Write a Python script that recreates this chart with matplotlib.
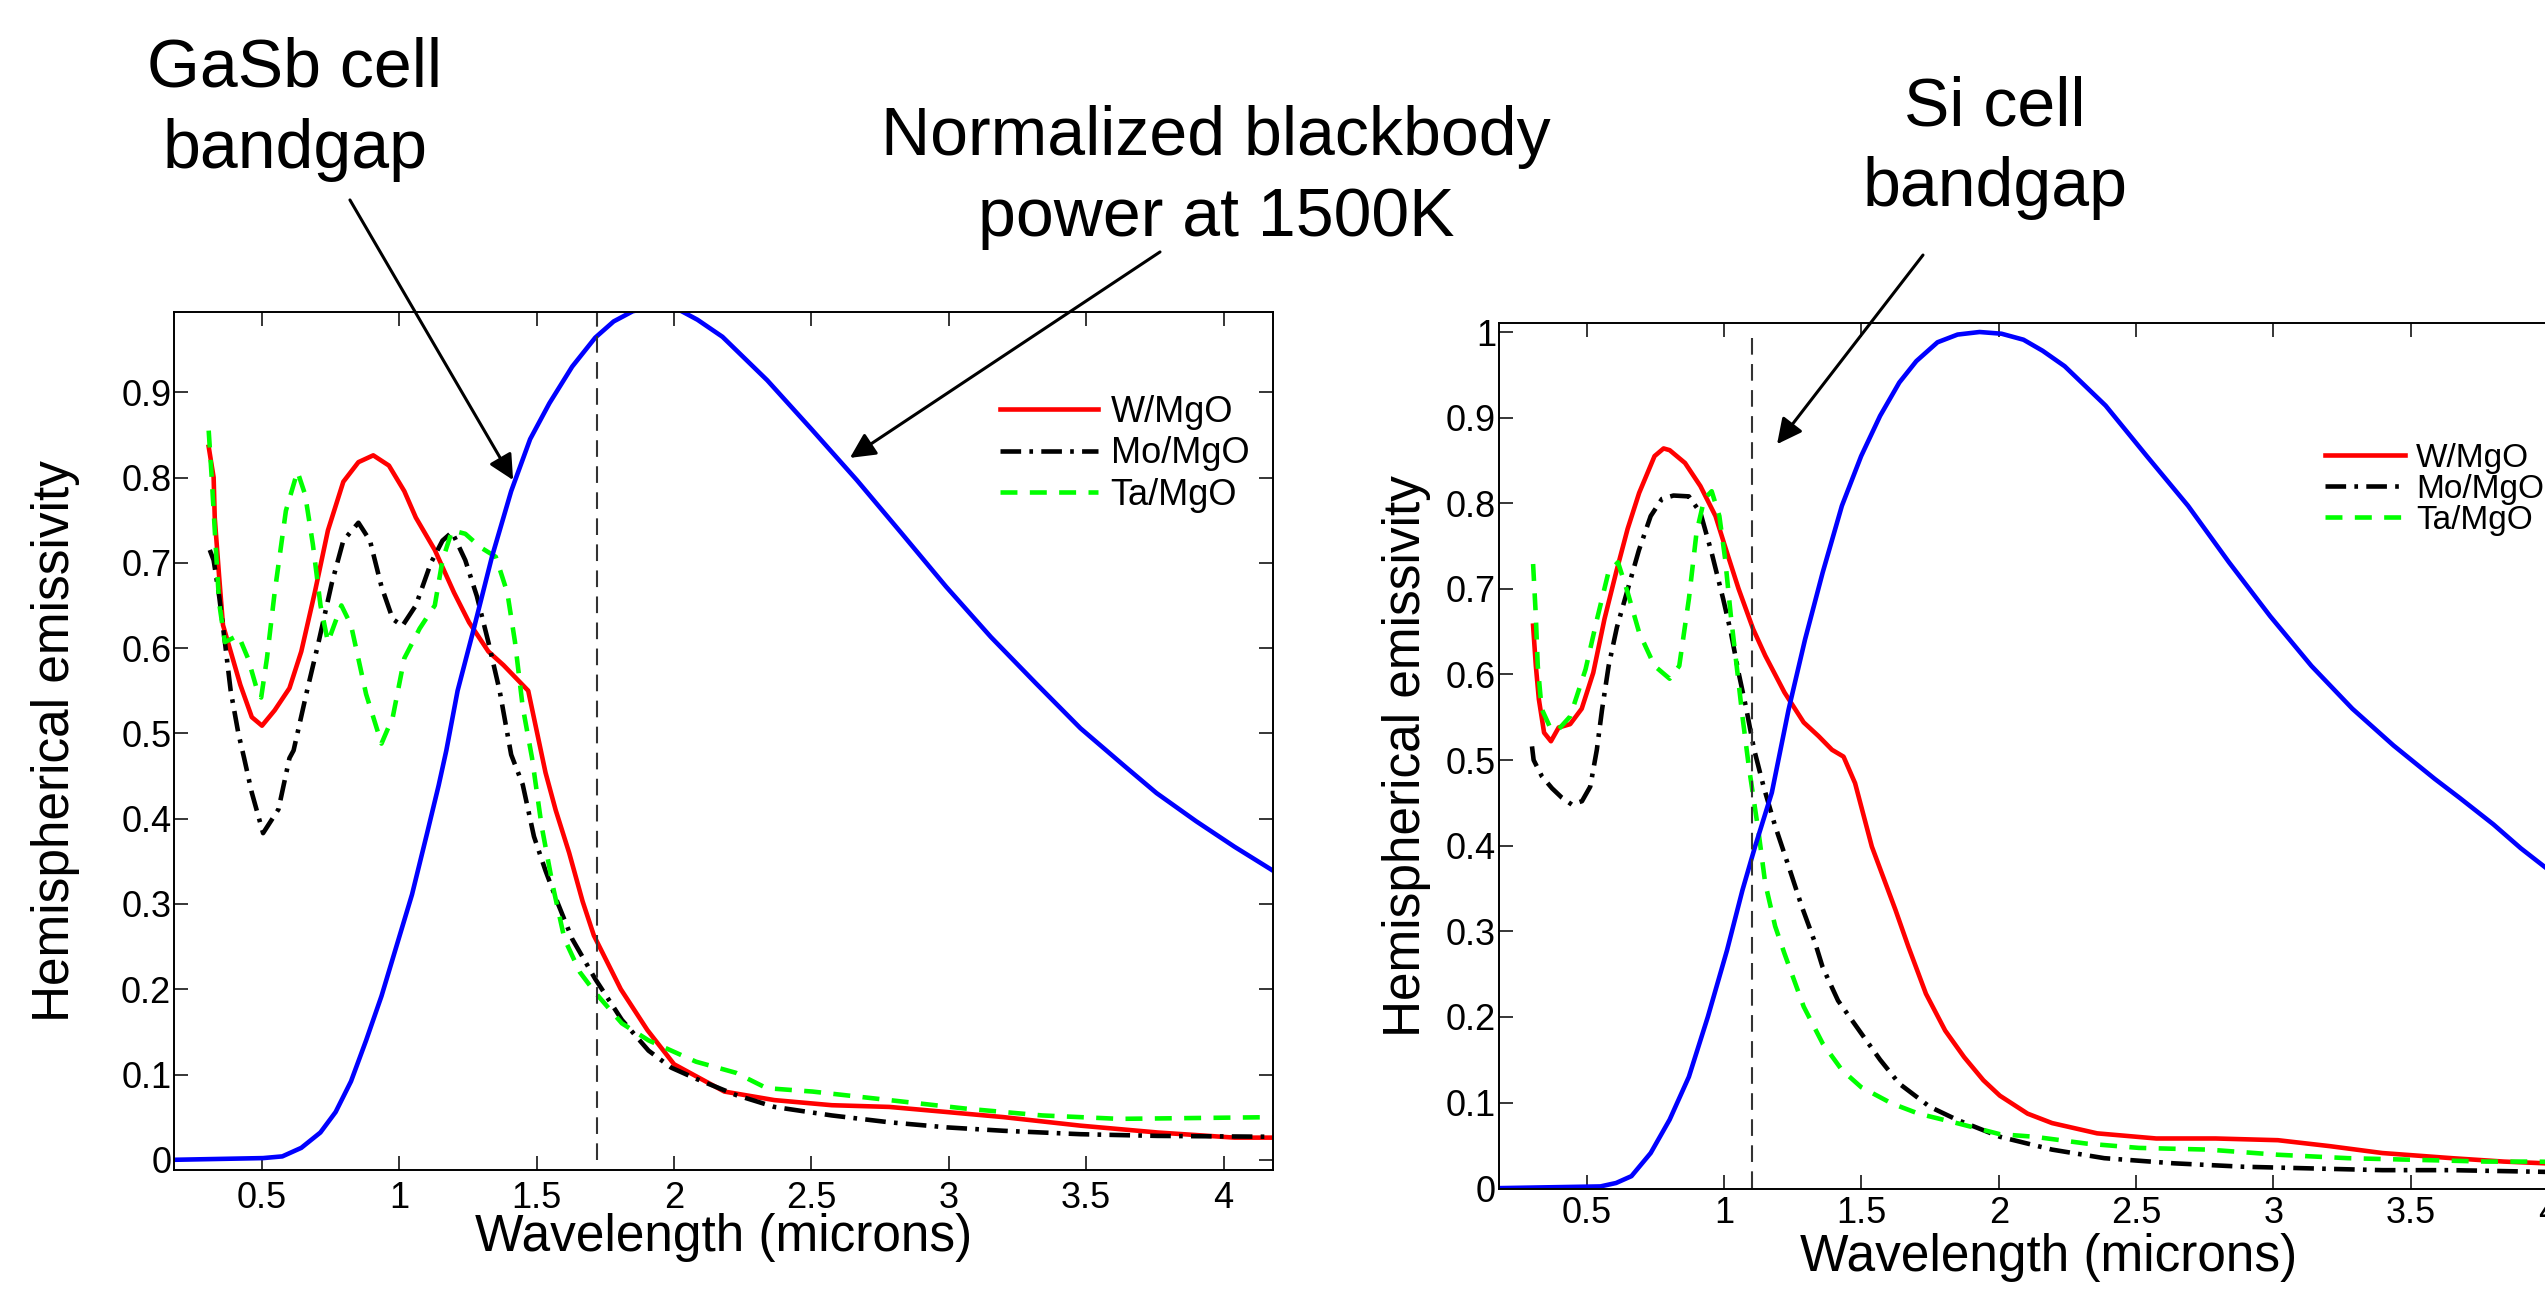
import matplotlib
matplotlib.use("Agg")
import matplotlib.pyplot as plt
from matplotlib.ticker import FixedLocator, FormatStrFormatter

plt.rcParams['font.family'] = ['Liberation Sans', 'DejaVu Sans']

# ---- left panel (GaSb cell) ----
gasb_w_x = [0.306, 0.324, 0.328, 0.344, 0.358, 0.386, 0.421, 0.463, 0.50, 0.546, 0.60, 0.643, 0.692, 0.74,
            0.796, 0.851, 0.905, 0.962, 1.018, 1.06, 1.129, 1.199, 1.254, 1.324, 1.379, 1.469, 1.532, 1.569,
            1.618, 1.667, 1.708, 1.806, 1.903, 2.0, 2.08, 2.183, 2.365, 2.574, 2.783, 2.993, 3.20, 3.48, 3.76,
            4.04, 4.18]
gasb_w_y = [0.836, 0.80, 0.753, 0.684, 0.627, 0.596, 0.557, 0.519, 0.509, 0.527, 0.553, 0.596, 0.665, 0.738,
            0.795, 0.818, 0.826, 0.814, 0.784, 0.753, 0.715, 0.665, 0.63, 0.596, 0.58, 0.55, 0.454, 0.41,
            0.36, 0.303, 0.263, 0.20, 0.152, 0.112, 0.098, 0.08, 0.070, 0.064, 0.062, 0.056, 0.050, 0.040, 0.032,
            0.026, 0.026]

gasb_mo_x = [0.31, 0.324, 0.344, 0.365, 0.386, 0.414, 0.435, 0.4625, 0.504, 0.56, 0.60, 0.615, 0.664, 0.706,
             0.754, 0.796, 0.851, 0.893, 0.935, 0.976, 1.011, 1.06, 1.115, 1.157, 1.192, 1.24, 1.282, 1.324,
             1.365, 1.407, 1.449, 1.49, 1.532, 1.574, 1.629, 1.713, 1.81, 1.907, 1.99, 2.08, 2.225, 2.365,
             2.574, 2.783, 2.993, 3.20, 3.48, 3.76, 4.18]
gasb_mo_y = [0.715, 0.703, 0.661, 0.607, 0.55, 0.50, 0.471, 0.431, 0.383, 0.411, 0.471, 0.48, 0.55, 0.607,
             0.676, 0.726, 0.747, 0.726, 0.672, 0.634, 0.626, 0.65, 0.70, 0.726, 0.736, 0.703, 0.661, 0.607,
             0.55, 0.475, 0.44, 0.379, 0.339, 0.303, 0.259, 0.212, 0.164, 0.128, 0.108, 0.095, 0.076, 0.062,
             0.052, 0.044, 0.038, 0.034, 0.030, 0.028, 0.027]

gasb_ta_x = [0.306, 0.317, 0.331, 0.344, 0.365, 0.414, 0.449, 0.483, 0.497, 0.518, 0.546, 0.587, 0.629, 0.657,
             0.685, 0.713, 0.74, 0.789, 0.824, 0.879, 0.935, 0.976, 1.018, 1.074, 1.129, 1.157, 1.192, 1.24,
             1.296, 1.351, 1.393, 1.421, 1.449, 1.483, 1.518, 1.56, 1.601, 1.657, 1.713, 1.81, 1.907, 1.99,
             2.08, 2.225, 2.337, 2.504, 2.783, 3.062, 3.34, 3.62, 3.90, 4.18]
gasb_ta_y = [0.855, 0.80, 0.722, 0.653, 0.607, 0.615, 0.588, 0.55, 0.542, 0.588, 0.665, 0.761, 0.807, 0.78,
             0.722, 0.65, 0.607, 0.65, 0.627, 0.546, 0.488, 0.519, 0.588, 0.623, 0.65, 0.703, 0.738, 0.734,
             0.718, 0.707, 0.665, 0.607, 0.531, 0.471, 0.391, 0.319, 0.259, 0.22, 0.196, 0.16, 0.14, 0.128,
             0.115, 0.102, 0.084, 0.08, 0.070, 0.06, 0.052, 0.048, 0.049, 0.05]

bb_left_x = [0.18, 0.504, 0.574, 0.643, 0.7125, 0.768, 0.824, 0.879, 0.935, 0.99, 1.046, 1.101, 1.143, 1.171,
             1.212, 1.268, 1.337, 1.407, 1.476, 1.546, 1.629, 1.713, 1.78, 1.85, 1.93, 2.01, 2.085, 2.176,
             2.339, 2.502, 2.665, 2.827, 2.99, 3.153, 3.316, 3.479, 3.642, 3.756, 3.90, 4.04, 4.18]
bb_left_y = [0.0, 0.002, 0.004, 0.014, 0.032, 0.056, 0.092, 0.14, 0.192, 0.251, 0.311, 0.383, 0.439, 0.48,
             0.55, 0.619, 0.707, 0.784, 0.845, 0.887, 0.93, 0.964, 0.983, 0.995, 1.0, 0.998, 0.985, 0.965,
             0.914, 0.856, 0.797, 0.735, 0.672, 0.613, 0.559, 0.506, 0.461, 0.43, 0.397, 0.367, 0.339]

# ---- right panel (Si cell) ----
si_w_x = [0.305, 0.315, 0.326, 0.345, 0.37, 0.398, 0.44, 0.482, 0.524, 0.565, 0.607, 0.649, 0.691, 0.747,
          0.78, 0.802, 0.858, 0.914, 0.969, 1.011, 1.053, 1.106, 1.15, 1.22, 1.29, 1.344, 1.393, 1.435,
          1.477, 1.538, 1.574, 1.624, 1.671, 1.735, 1.805, 1.874, 1.944, 2.004, 2.105, 2.194, 2.358, 2.573,
          2.789, 3.016, 3.206, 3.396, 3.649, 3.839, 3.989, 4.18]
si_w_y = [0.657, 0.61, 0.571, 0.532, 0.522, 0.538, 0.542, 0.56, 0.602, 0.665, 0.719, 0.77, 0.812, 0.855,
          0.864, 0.862, 0.847, 0.82, 0.785, 0.742, 0.70, 0.653, 0.622, 0.579, 0.544, 0.528, 0.512, 0.504,
          0.473, 0.399, 0.368, 0.325, 0.282, 0.227, 0.184, 0.153, 0.126, 0.108, 0.087, 0.076, 0.064, 0.058,
          0.058, 0.056, 0.049, 0.041, 0.035, 0.031, 0.029, 0.027]

si_mo_x = [0.301, 0.307, 0.337, 0.374, 0.41, 0.446, 0.483, 0.513, 0.537, 0.556, 0.58, 0.61, 0.65, 0.69,
           0.733, 0.774, 0.816, 0.872, 0.914, 0.955, 0.997, 1.025, 1.053, 1.081, 1.109, 1.144, 1.186, 1.235,
           1.283, 1.332, 1.359, 1.415, 1.499, 1.568, 1.638, 1.749, 1.847, 2.004, 2.194, 2.384, 2.637, 2.89,
           3.143, 3.396, 3.649, 3.989, 4.18]
si_mo_y = [0.516, 0.50, 0.481, 0.467, 0.456, 0.448, 0.452, 0.469, 0.512, 0.559, 0.61, 0.655, 0.70, 0.745,
           0.785, 0.805, 0.809, 0.808, 0.789, 0.742, 0.688, 0.649, 0.602, 0.56, 0.513, 0.469, 0.423, 0.376,
           0.329, 0.286, 0.258, 0.219, 0.181, 0.15, 0.122, 0.095, 0.08, 0.06, 0.045, 0.035, 0.029, 0.025,
           0.023, 0.021, 0.021, 0.019, 0.019]

si_ta_x = [0.305, 0.315, 0.322, 0.336, 0.37, 0.398, 0.44, 0.496, 0.538, 0.579, 0.614, 0.649, 0.691, 0.747,
           0.802, 0.837, 0.872, 0.90, 0.928, 0.955, 0.983, 1.004, 1.025, 1.046, 1.067, 1.09, 1.108, 1.126,
           1.15, 1.186, 1.22, 1.29, 1.359, 1.429, 1.499, 1.61, 1.708, 1.847, 2.004, 2.13, 2.32, 2.51, 2.763,
           3.016, 3.27, 3.523, 3.776, 3.94, 4.18]
si_ta_y = [0.729, 0.668, 0.61, 0.56, 0.536, 0.536, 0.551, 0.606, 0.665, 0.719, 0.731, 0.696, 0.649, 0.61,
           0.595, 0.61, 0.688, 0.766, 0.805, 0.814, 0.785, 0.735, 0.668, 0.61, 0.551, 0.493, 0.454, 0.415,
           0.356, 0.306, 0.274, 0.212, 0.169, 0.138, 0.118, 0.099, 0.087, 0.076, 0.063, 0.06, 0.052, 0.047,
           0.045, 0.039, 0.035, 0.033, 0.031, 0.031, 0.030]

bb_right_x = [0.18, 0.55, 0.607, 0.663, 0.733, 0.802, 0.872, 0.941, 1.011, 1.067, 1.113, 1.174, 1.235, 1.295,
              1.359, 1.429, 1.499, 1.568, 1.638, 1.70, 1.777, 1.85, 1.93, 2.01, 2.09, 2.16, 2.24, 2.389,
              2.539, 2.689, 2.838, 2.988, 3.138, 3.287, 3.437, 3.587, 3.677, 3.80, 3.90, 4.0, 4.18]
bb_right_y = [0.0, 0.002, 0.006, 0.014, 0.041, 0.08, 0.13, 0.2, 0.278, 0.348, 0.399, 0.462, 0.559, 0.641,
              0.719, 0.797, 0.855, 0.902, 0.941, 0.966, 0.988, 0.997, 1.0, 0.998, 0.991, 0.978, 0.96, 0.914,
              0.855, 0.797, 0.731, 0.668, 0.61, 0.56, 0.517, 0.478, 0.456, 0.425, 0.397, 0.372, 0.339]

gasb_gap = 1.72   # microns
si_gap = 1.1

series_labels = ['W/MgO', 'Mo/MgO', 'Ta/MgO']
xticks = [0.5, 1, 1.5, 2, 2.5, 3, 3.5, 4]

fig = plt.figure(figsize=(25.45, 12.9), dpi=100)
ax1 = fig.add_axes([0.0684, 0.0930, 0.4318, 0.6651])
ax2 = fig.add_axes([0.5889, 0.0783, 0.4318, 0.6713])


def draw(ax, w, mo, ta, bb, gap):
    ax.plot(w[0], w[1], color='#ff0000', lw=3.3, label=series_labels[0])
    ax.plot(mo[0], mo[1], color='black', lw=3.3, dashes=(4.5, 1.8, 0.8, 1.8), label=series_labels[1])
    ax.plot(ta[0], ta[1], color='#00ff00', lw=3.3, dashes=(3.7, 2.7), label=series_labels[2])
    ax.plot(bb[0], bb[1], color='#0000ff', lw=3.3)
    ax.plot([gap, gap], [0, 1], color='#333333', lw=1.5, dashes=(8, 4.5))


draw(ax1, (gasb_w_x, gasb_w_y), (gasb_mo_x, gasb_mo_y), (gasb_ta_x, gasb_ta_y), (bb_left_x, bb_left_y), gasb_gap)
draw(ax2, (si_w_x, si_w_y), (si_mo_x, si_mo_y), (si_ta_x, si_ta_y), (bb_right_x, bb_right_y), si_gap)

for ax, ylim, yt, xpad in [(ax1, (-0.012, 0.994), [i / 10 for i in range(10)], 8),
                            (ax2, (-0.001, 1.0105), [i / 10 for i in range(11)], 5)]:
    ax.set_xlim(0.18, 4.18)
    ax.set_ylim(*ylim)
    ax.xaxis.set_major_locator(FixedLocator(xticks))
    ax.yaxis.set_major_locator(FixedLocator(yt))
    ax.xaxis.set_major_formatter(FormatStrFormatter('%g'))
    ax.yaxis.set_major_formatter(FormatStrFormatter('%g'))
    ax.tick_params(direction='in', length=10, width=1.1, top=True, right=True, labelsize=26)
    ax.tick_params(axis='x', pad=xpad)
    ax.tick_params(axis='y', pad=2)
    for s in ax.spines.values():
        s.set_linewidth(1.4)
    ax.set_xlabel('Wavelength (microns)', fontsize=37)
    ax.set_ylabel('Hemispherical emissivity', fontsize=37, va='center')

ax1.xaxis.set_label_coords(0.5, -0.05)
ax2.xaxis.set_label_coords(0.5, -0.051)
ax1.yaxis.set_label_coords(-0.108, 0.5)
ax2.yaxis.set_label_coords(-0.084, 0.5)

ax1.legend(loc='upper left', bbox_to_anchor=(0.7516, 0.9036), frameon=False, fontsize=26,
           borderpad=0, borderaxespad=0, handlelength=2.7, handletextpad=0.36, labelspacing=0.18)
ax2.legend(loc='upper left', bbox_to_anchor=(0.7519, 0.862), frameon=False, fontsize=24,
           borderpad=0, borderaxespad=0, handlelength=2.4, handletextpad=0.33, labelspacing=0.0)

# annotations (text in figure space, arrow tips on the curves)
arrow = dict(arrowstyle='-|>', color='black', lw=2.2, mutation_scale=38, shrinkA=0, shrinkB=0)
ax1.annotate('', xy=(1.414, 0.797), xycoords='data', xytext=(0.1375, 0.845),
             textcoords='figure fraction', arrowprops=arrow)
ax1.annotate('', xy=(2.64, 0.823), xycoords='data', xytext=(0.4558, 0.8047),
             textcoords='figure fraction', arrowprops=arrow)
ax2.annotate('', xy=(1.193, 0.869), xycoords='data', xytext=(0.7556, 0.8023),
             textcoords='figure fraction', arrowprops=arrow)

fig.text(0.1159, 0.9326, 'GaSb cell', fontsize=49, ha='center', va='baseline')
fig.text(0.1159, 0.8698, 'bandgap', fontsize=49, ha='center', va='baseline')
fig.text(0.4778, 0.8798, 'Normalized blackbody', fontsize=49, ha='center', va='baseline')
fig.text(0.4778, 0.8171, 'power at 1500K', fontsize=49, ha='center', va='baseline')
fig.text(0.7838, 0.9031, 'Si cell', fontsize=49, ha='center', va='baseline')
fig.text(0.7838, 0.8403, 'bandgap', fontsize=49, ha='center', va='baseline')

fig.savefig('out.png', dpi=100)
